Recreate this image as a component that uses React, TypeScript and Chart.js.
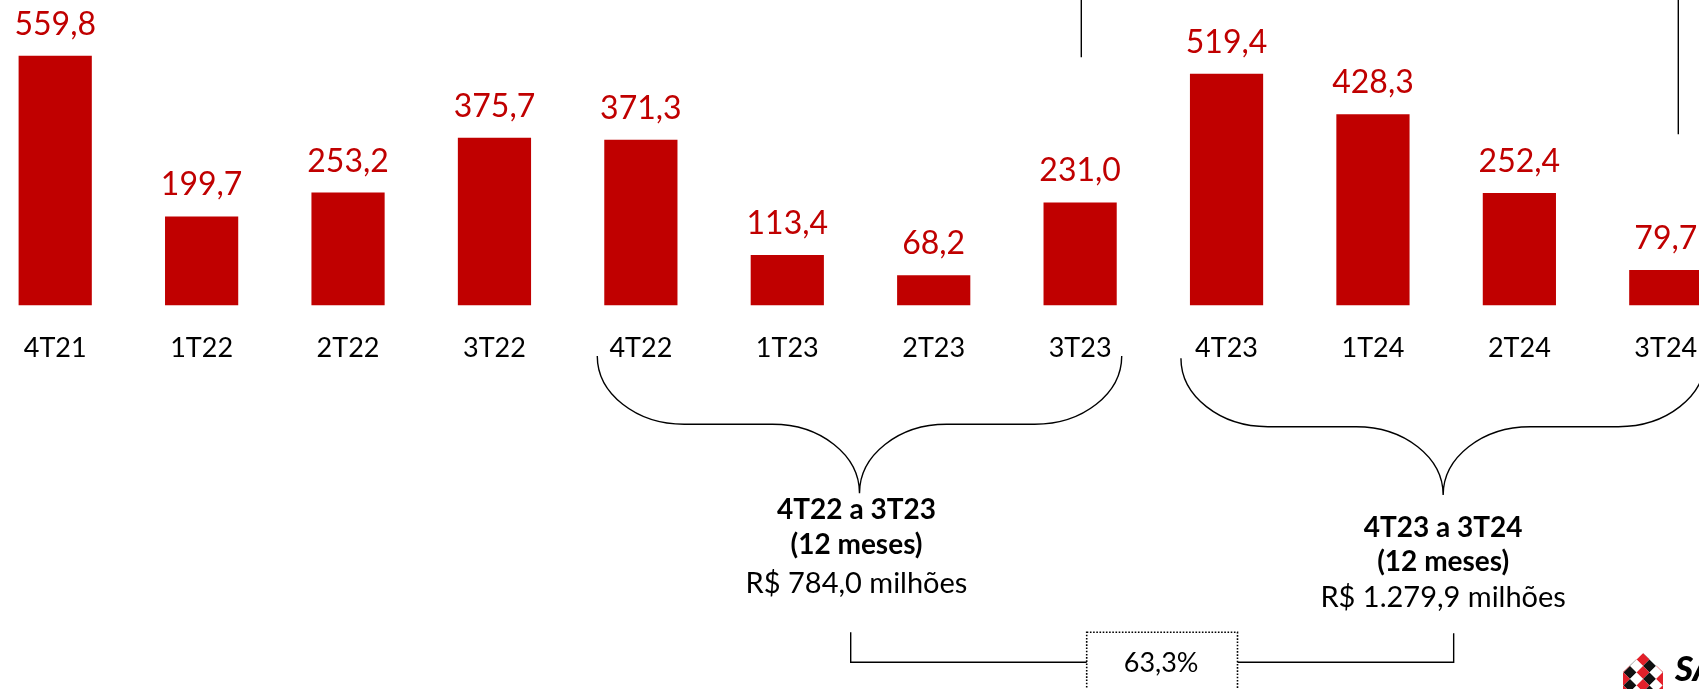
import React, { useEffect, useRef } from "react";
import { Chart, registerables } from "chart.js";

Chart.register(...registerables);

// ---- data ----
const categories = ["4T21", "1T22", "2T22", "3T22", "4T22", "1T23", "2T23", "3T23", "4T23", "1T24", "2T24", "3T24"];
const values = [559.8, 199.7, 253.2, 375.7, 371.3, 113.4, 68.2, 231.0, 519.4, 428.3, 252.4, 79.7];
const valueLabels = ["559,8", "199,7", "253,2", "375,7", "371,3", "113,4", "68,2", "231,0", "519,4", "428,3", "252,4", "79,7"];
const periodRanges = [[4, 7], [8, 11]];
const periodTitles = ["4T22 a 3T23", "4T23 a 3T24"];
const periodSubtitles = ["(12 meses)", "(12 meses)"];
const periodTotals = ["R$ 784,0 milhões", "R$ 1.279,9 milhões"];
const growthLabel = "63,3%";
const logoText = "SA";

const RED = "#C00000";
const SHIFT = 18; // canvas is shifted 18px left of the page
const CANVAS_W = 1757;
const CANVAS_H = 689;

function bezBrace(ctx: CanvasRenderingContext2D, xl: number, xr: number, yTop: number, yMid: number, yTip: number, rx: number) {
  const k = 0.5523;
  const xc = (xl + xr) / 2;
  const h1 = yMid - yTop;
  const h2 = yTip - yMid;
  ctx.beginPath();
  ctx.moveTo(xl, yTop);
  ctx.bezierCurveTo(xl, yTop + k * h1, xl + rx - k * rx, yMid, xl + rx, yMid);
  ctx.lineTo(xc - rx, yMid);
  ctx.bezierCurveTo(xc - rx + k * rx, yMid, xc, yTip - k * h2, xc, yTip);
  ctx.bezierCurveTo(xc, yTip - k * h2, xc + rx - k * rx, yMid, xc + rx, yMid);
  ctx.lineTo(xr - rx, yMid);
  ctx.bezierCurveTo(xr - rx + k * rx, yMid, xr, yTop + k * h1, xr, yTop);
  ctx.stroke();
}

const annotationPlugin = {
  id: "annotations",
  afterDatasetsDraw(chart: any) {
    const ctx: CanvasRenderingContext2D = chart.ctx;
    const meta = chart.getDatasetMeta(0);
    ctx.save();
    ctx.fillStyle = RED;
    ctx.font = "32px Lato";
    ctx.textAlign = "center";
    ctx.textBaseline = "alphabetic";
    meta.data.forEach((bar: any, i: number) => {
      const p = bar.getProps(["x", "y"], true);
      ctx.fillText(valueLabels[i], p.x, p.y - 21);
    });
    ctx.restore();
  },
  afterDraw(chart: any) {
    const ctx: CanvasRenderingContext2D = chart.ctx;
    const bars = chart.getDatasetMeta(0).data.map((b: any) => b.getProps(["x", "y", "width"], true));
    const P = (x: number) => x + SHIFT;
    ctx.save();
    ctx.strokeStyle = "#000";
    ctx.lineWidth = 1.4;

    // cut-off lines at top
    ctx.beginPath();
    ctx.moveTo(P(1081.3), 0);
    ctx.lineTo(P(1081.3), 57.3);
    ctx.moveTo(P(1678.3), 0);
    ctx.lineTo(P(1678.3), 134.3);
    ctx.stroke();

    const geo = [
      { padL: 7, padR: 5, top: 356, mid: 424.3, tip: 493.3, dx: -3, base: [519.3, 554, 592.7] },
      { padL: 9, padR: 3, top: 358.3, mid: 426.7, tip: 495, dx: 0, base: [536.7, 570.7, 606.7] },
    ];
    const tips: number[] = [];
    periodRanges.forEach((r, i) => {
      const g = geo[i];
      const a = bars[r[0]];
      const b = bars[r[1]];
      const xl = a.x - a.width / 2 - g.padL;
      const xr = b.x + b.width / 2 + g.padR;
      const xc = (xl + xr) / 2;
      tips.push(xc);
      ctx.lineWidth = 1.4;
      bezBrace(ctx, xl, xr, g.top, g.mid, g.tip, 87);
      ctx.fillStyle = "#000";
      ctx.textAlign = "center";
      ctx.textBaseline = "alphabetic";
      ctx.font = "bold 28px Lato";
      ctx.fillText(periodTitles[i], xc + g.dx, g.base[0]);
      ctx.fillText(periodSubtitles[i], xc + g.dx, g.base[1]);
      ctx.font = "29px Lato";
      ctx.fillText(periodTotals[i], xc + g.dx, g.base[2]);
    });

    // connector between totals
    const boxL = P(1086.7);
    const boxR = P(1237.5);
    const boxTop = 632.3;
    const connY = 662.2;
    const leftX = tips[0] - 8.8;
    const rightX = tips[1] + 10.5;
    ctx.lineWidth = 1.4;
    ctx.beginPath();
    ctx.moveTo(leftX, boxTop);
    ctx.lineTo(leftX, connY);
    ctx.lineTo(boxL, connY);
    ctx.moveTo(boxR, connY);
    ctx.lineTo(rightX, connY);
    ctx.lineTo(rightX, boxTop + 1);
    ctx.stroke();

    // dotted box
    ctx.setLineDash([1.6, 1.6]);
    ctx.lineWidth = 1.6;
    ctx.strokeRect(boxL, boxTop, boxR - boxL, 80);
    ctx.setLineDash([]);
    ctx.font = "27px Lato";
    ctx.fillStyle = "#000";
    ctx.textAlign = "center";
    ctx.fillText(growthLabel, (boxL + boxR) / 2 - 1, 671.7);

    // logo
    const lx = P(1643);
    ctx.save();
    ctx.beginPath();
    ctx.moveTo(lx - 20, 672);
    ctx.lineTo(lx, 653);
    ctx.lineTo(lx + 20, 672);
    ctx.lineTo(lx + 20, 690);
    ctx.lineTo(lx - 20, 690);
    ctx.closePath();
    ctx.clip();
    ctx.fillStyle = "#fff";
    ctx.fillRect(lx - 22, 650, 44, 42);
    const colors = ["#E3202A", "#111111", "#ffffff"];
    const s = 6.5;
    for (let u = -4; u < 6; u++) {
      for (let v = -4; v < 6; v++) {
        const cx = lx + (u - v) * s;
        const cy = 653 + (u + v) * s + s;
        ctx.fillStyle = colors[((u + 2 * v) % 3 + 3) % 3];
        ctx.beginPath();
        ctx.moveTo(cx, cy - s);
        ctx.lineTo(cx + s, cy);
        ctx.lineTo(cx, cy + s);
        ctx.lineTo(cx - s, cy);
        ctx.closePath();
        ctx.fill();
      }
    }
    ctx.restore();
    ctx.fillStyle = "#000";
    ctx.textAlign = "left";
    ctx.font = "italic 900 35px Lato";
    ctx.fillText(logoText, P(1675), 680.5);
    ctx.restore();
  },
};

export default function App() {
  const ref = useRef<HTMLCanvasElement>(null);
  useEffect(() => {
    if (!ref.current) return;
    Chart.defaults.font.family = "Lato";
    const chart = new Chart(ref.current, {
      type: "bar",
      data: {
        labels: categories,
        datasets: [
          {
            data: values,
            backgroundColor: RED,
            borderWidth: 0,
            categoryPercentage: 1,
            barPercentage: 0.5,
          },
        ],
      },
      options: {
        responsive: false,
        animation: false,
        layout: { padding: { top: 0, bottom: 299, left: 0, right: 0 } },
        plugins: { legend: { display: false }, tooltip: { enabled: false } },
        scales: {
          x: {
            grid: { display: false, drawTicks: false },
            border: { display: false },
            ticks: { color: "#000", font: { family: "Lato", size: 27 }, padding: 26, maxRotation: 0, autoSkip: false },
          },
          y: { display: false, min: 0, max: 684.4 },
        },
      },
      plugins: [annotationPlugin],
    });
    return () => chart.destroy();
  }, []);
  return (
    <div style={{ position: "absolute", left: 0, top: 0, width: 1699, height: 689, overflow: "hidden", background: "#fff" }}>
      <canvas
        ref={ref}
        width={CANVAS_W}
        height={CANVAS_H}
        style={{ position: "absolute", left: -SHIFT, top: 0, width: CANVAS_W, height: CANVAS_H }}
      />
    </div>
  );
}
